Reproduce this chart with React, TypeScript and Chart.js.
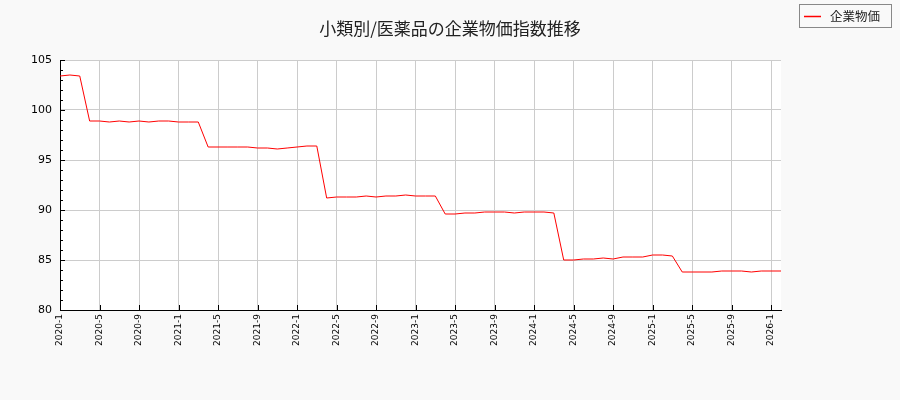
import { useEffect, useRef } from "react"
import { Chart, registerables } from "chart.js"

Chart.register(...registerables)

const chartTitle = "小類別/医薬品の企業物価指数推移"
const seriesName = "企業物価"

const months = [
  "2020-1", "2020-2", "2020-3", "2020-4", "2020-5", "2020-6", "2020-7", "2020-8", "2020-9", "2020-10", "2020-11", "2020-12",
  "2021-1", "2021-2", "2021-3", "2021-4", "2021-5", "2021-6", "2021-7", "2021-8", "2021-9", "2021-10", "2021-11", "2021-12",
  "2022-1", "2022-2", "2022-3", "2022-4", "2022-5", "2022-6", "2022-7", "2022-8", "2022-9", "2022-10", "2022-11", "2022-12",
  "2023-1", "2023-2", "2023-3", "2023-4", "2023-5", "2023-6", "2023-7", "2023-8", "2023-9", "2023-10", "2023-11", "2023-12",
  "2024-1", "2024-2", "2024-3", "2024-4", "2024-5", "2024-6", "2024-7", "2024-8", "2024-9", "2024-10", "2024-11", "2024-12",
  "2025-1", "2025-2", "2025-3", "2025-4", "2025-5", "2025-6", "2025-7", "2025-8", "2025-9", "2025-10", "2025-11", "2025-12",
  "2026-1", "2026-2",
]

const indexValues = [
  103.4, 103.5, 103.4, 98.9, 98.9, 98.8, 98.9, 98.8, 98.9, 98.8, 98.9, 98.9,
  98.8, 98.8, 98.8, 96.3, 96.3, 96.3, 96.3, 96.3, 96.2, 96.2, 96.1, 96.2,
  96.3, 96.4, 96.4, 91.2, 91.3, 91.3, 91.3, 91.4, 91.3, 91.4, 91.4, 91.5,
  91.4, 91.4, 91.4, 89.6, 89.6, 89.7, 89.7, 89.8, 89.8, 89.8, 89.7, 89.8,
  89.8, 89.8, 89.7, 85.0, 85.0, 85.1, 85.1, 85.2, 85.1, 85.3, 85.3, 85.3,
  85.5, 85.5, 85.4, 83.8, 83.8, 83.8, 83.8, 83.9, 83.9, 83.9, 83.8, 83.9,
  83.9, 83.9,
]

// labels shown on the x axis: every 4th month
const labelEvery = 4
const yMin = 80
const yMax = 105
const yStep = 5

const cjkFont = "'Noto Sans CJK JP', 'Noto Sans', sans-serif"

const frame = {
  id: "frame",
  beforeDraw(chart: Chart) {
    const { ctx, chartArea: a } = chart
    ctx.save()
    ctx.fillStyle = "#f9f9f9"
    ctx.fillRect(0, 0, chart.width, chart.height)
    ctx.fillStyle = "#ffffff"
    ctx.fillRect(a.left, a.top, a.right - a.left, a.bottom - a.top)
    ctx.restore()
  },
  afterDraw(chart: Chart) {
    const { ctx, chartArea: a } = chart
    const x = chart.scales.x
    const y = chart.scales.y
    ctx.save()
    ctx.strokeStyle = "#000"
    ctx.lineWidth = 1

    // inward tick marks, minor every 1
    for (let v = yMin; v <= yMax; v++) {
      const py = Math.round(y.getPixelForValue(v)) + 0.5
      const len = v % yStep === 0 ? 5 : 3
      ctx.beginPath()
      ctx.moveTo(a.left, py)
      ctx.lineTo(a.left + len, py)
      ctx.stroke()
    }
    months.forEach((_, i) => {
      if (i % labelEvery !== 0) return
      const px = Math.round(x.getPixelForValue(i)) + 0.5
      ctx.beginPath()
      ctx.moveTo(px, a.bottom)
      ctx.lineTo(px, a.bottom - 5)
      ctx.stroke()
    })

    // title
    ctx.fillStyle = "#222"
    ctx.font = `17px ${cjkFont}`
    ctx.textAlign = "center"
    ctx.textBaseline = "middle"
    ctx.fillText(chartTitle, 450, 29)

    // legend
    ctx.fillStyle = "#f9f9f9"
    ctx.fillRect(799.5, 4.5, 92, 23)
    ctx.strokeStyle = "#888"
    ctx.strokeRect(799.5, 4.5, 92, 23)
    ctx.strokeStyle = "#ff0000"
    ctx.lineWidth = 1.5
    ctx.beginPath()
    ctx.moveTo(804, 16.5)
    ctx.lineTo(821, 16.5)
    ctx.stroke()
    ctx.fillStyle = "#222"
    ctx.font = `12.5px ${cjkFont}`
    ctx.textAlign = "left"
    ctx.fillText(seriesName, 830, 16.5)
    ctx.restore()
  },
}

export default function App() {
  const chartRef = useRef<HTMLCanvasElement>(null)
  const chartInstance = useRef<Chart | null>(null)

  useEffect(() => {
    document.body.style.margin = "0"
    if (!chartRef.current) return
    const ctx = chartRef.current.getContext("2d")
    if (!ctx) return

    if (chartInstance.current) {
      chartInstance.current.destroy()
    }

    chartInstance.current = new Chart(ctx, {
      type: "line",
      data: {
        labels: months,
        datasets: [
          {
            label: seriesName,
            data: indexValues,
            borderColor: "#ff0000",
            borderWidth: 1,
            pointRadius: 0,
            tension: 0,
            fill: false,
          },
        ],
      },
      options: {
        responsive: false,
        animation: false,
        devicePixelRatio: 1,
        layout: {
          padding: { top: 60, right: 119, left: 0, bottom: 0 },
        },
        plugins: {
          legend: { display: false },
          title: { display: false },
          tooltip: { enabled: false },
        },
        scales: {
          x: {
            offset: false,
            afterFit: (scale) => {
              scale.height = 90
            },
            border: { color: "#000", width: 1 },
            grid: {
              drawTicks: false,
              color: (c) => (c.index % labelEvery === 0 ? "#cccccc" : "rgba(0,0,0,0)"),
            },
            ticks: {
              autoSkip: false,
              maxRotation: 90,
              minRotation: 90,
              padding: 4,
              color: "#000",
              font: { family: "'DejaVu Sans', sans-serif", size: 9 },
              callback: (_v, i) => (i % labelEvery === 0 ? months[i] : ""),
            },
          },
          y: {
            min: yMin,
            max: yMax,
            afterFit: (scale) => {
              scale.width = 60
            },
            border: { color: "#000", width: 1 },
            grid: { drawTicks: false, color: "#cccccc" },
            ticks: {
              stepSize: yStep,
              padding: 8,
              color: "#000",
              font: { family: "'DejaVu Sans', sans-serif", size: 11 },
            },
          },
        },
      },
      plugins: [frame],
    })

    return () => {
      if (chartInstance.current) {
        chartInstance.current.destroy()
        chartInstance.current = null
      }
    }
  }, [])

  return (
    <div style={{ width: 900, height: 400, background: "#f9f9f9" }}>
      <canvas ref={chartRef} width={900} height={400} style={{ display: "block" }} />
    </div>
  )
}
